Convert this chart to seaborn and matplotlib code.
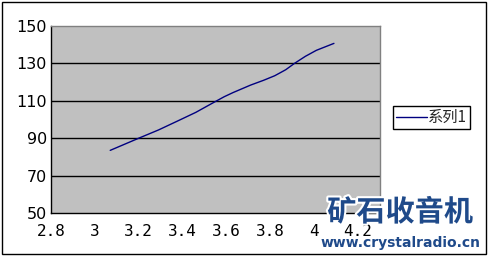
import matplotlib
matplotlib.use("Agg")
import matplotlib.pyplot as plt
import matplotlib.patheffects as pe
from matplotlib.patches import Rectangle
from matplotlib.lines import Line2D
import seaborn as sns
import pandas as pd

x_vals = [3.07, 3.2, 3.29, 3.37, 3.46, 3.54, 3.59, 3.63, 3.71, 3.77, 3.82, 3.87, 3.91, 3.96, 4.01, 4.09]
y_vals = [83.5, 90.0, 94.4, 98.8, 103.8, 109.0, 112.2, 114.4, 118.4, 121.0, 123.4, 126.6, 130.0, 133.8, 137.0, 140.7]
series_name = "系列1"
x_ticks = [2.8, 3.0, 3.2, 3.4, 3.6, 3.8, 4.0, 4.2]
x_tick_labels = ["2.8", "3", "3.2", "3.4", "3.6", "3.8", "4", "4.2"]
y_ticks = [50, 70, 90, 110, 130, 150]

sns.set_style("white")
plt.rcParams['font.family'] = ['DejaVu Sans']

df = pd.DataFrame({"x": x_vals, "y": y_vals})

fig = plt.figure(figsize=(4.88, 2.56), dpi=100)
ax = fig.add_axes([51/488, 1-213/256, (380-51)/488, (213-26)/256])
ax.set_facecolor("#C0C0C0")

sns.lineplot(data=df, x="x", y="y", sort=False, color="#000080", lw=1.0, ax=ax, legend=False)

ax.set_xlim(2.8, 4.3)
ax.set_ylim(50, 150)
ax.set_xticks(x_ticks)
ax.set_xticklabels(x_tick_labels, family="DejaVu Sans Mono", fontsize=11.5)
ax.set_yticks(y_ticks)
ax.set_yticklabels([str(v) for v in y_ticks], fontsize=11.5)
ax.set_xlabel("")
ax.set_ylabel("")
ax.grid(False)
for v in y_ticks[1:-1]:
    ax.axhline(v, color="black", lw=1.0, zorder=1)
ax.tick_params(axis="x", direction="in", length=4, width=1, color="black", pad=8, labelcolor="black")
ax.tick_params(axis="y", direction="in", length=4, width=1, color="black", pad=3, labelcolor="black")
for s in ["top", "right"]:
    ax.spines[s].set_color("#808080")
    ax.spines[s].set_linewidth(1.0)
for s in ["left", "bottom"]:
    ax.spines[s].set_color("black")
    ax.spines[s].set_linewidth(1.0)

# outer border
fig.patches.append(Rectangle((2/488, 1-254/256), (486-2)/488, (254-2)/256,
                             transform=fig.transFigure, fill=False, ec="black", lw=1.0))

# legend
leg = fig.legend(handles=[Line2D([], [], color="#000080", lw=1.0)], labels=[series_name],
                 loc="center left", bbox_to_anchor=(393/488, 1-117.5/256),
                 frameon=True, fancybox=False, edgecolor="black", framealpha=1,
                 prop={"family": "Noto Sans CJK SC", "size": 11},
                 handlelength=2.0, handletextpad=0.1, borderpad=0.2, borderaxespad=0)
leg.get_frame().set_linewidth(1.0)

# watermark
fig.text(400/488, 1-212/256, "矿石收音机", ha="center", va="center", fontsize=21,
         fontweight="bold", family="Noto Sans CJK SC", color="#1F4A8A",
         path_effects=[pe.withStroke(linewidth=3, foreground="white")])
fig.text(401/488, 1-243/256, "www.crystalradio.cn", ha="center", va="center", fontsize=10,
         fontweight="bold", family="DejaVu Sans", color="#1F4A8A")

fig.savefig("out.png", dpi=100)
